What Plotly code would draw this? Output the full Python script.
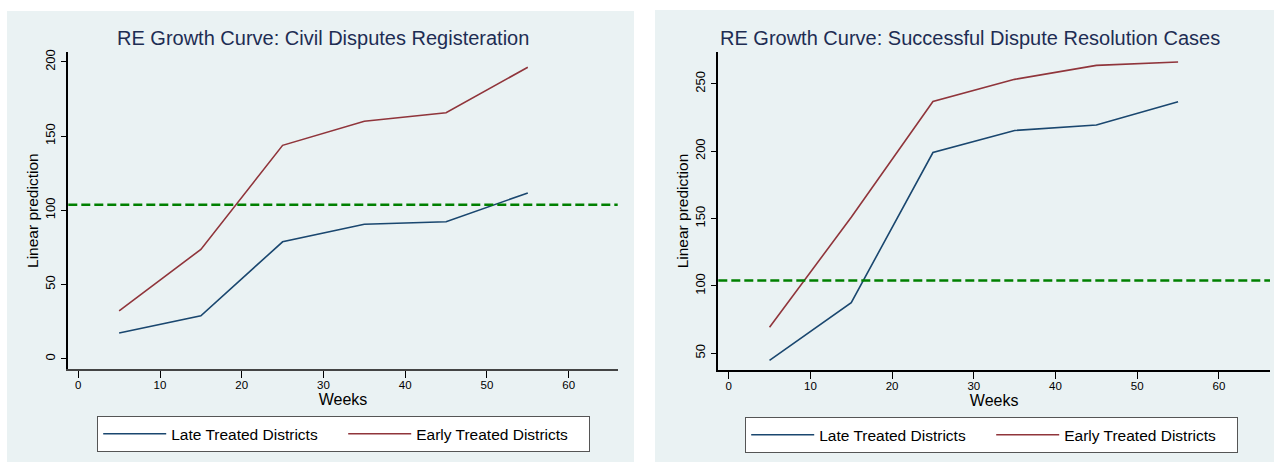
import plotly.graph_objects as go

# ---- data ----
weeks = [5, 15, 25, 35, 45, 55]
civil_late = [17.3, 29.0, 78.8, 90.6, 92.3, 111.7]
civil_early = [32.3, 73.7, 143.8, 160.0, 165.8, 196.4]
resol_late = [44.8, 87.6, 199.0, 215.4, 219.4, 236.7]
resol_early = [69.3, 151.0, 236.9, 253.3, 263.7, 266.2]
threshold_civil = 103.8
threshold_resol = 104.0
titles = ["RE Growth Curve: Civil Disputes Registeration",
          "RE Growth Curve: Successful Dispute Resolution Cases"]
series_names = ["Late Treated Districts", "Early Treated Districts"]
x_ticks = [0, 10, 20, 30, 40, 50, 60]
y_ticks_civil = [0, 50, 100, 150, 200]
y_ticks_resol = [50, 100, 150, 200, 250]

W, H = 1274, 462
FONT = "Liberation Sans, Arial, sans-serif"
NAVY = "#1A476F"
MAROON = "#90353B"
GREEN = "#008000"
BG = "#EAF2F3"
TITLE_C = "#1E2D53"

def px(x):
    return x / W

def py(y):
    return 1 - y / H

fig = go.Figure()

panels = [
    dict(xa="x", ya="y", late=civil_late, early=civil_early, thr=threshold_civil, legend="legend"),
    dict(xa="x2", ya="y2", late=resol_late, early=resol_early, thr=threshold_resol, legend="legend2"),
]
for i, p in enumerate(panels):
    fig.add_trace(go.Scatter(x=weeks, y=p["late"], mode="lines", name=series_names[0],
                             line=dict(color=NAVY, width=1.6), xaxis=p["xa"], yaxis=p["ya"],
                             legend=p["legend"]))
    fig.add_trace(go.Scatter(x=weeks, y=p["early"], mode="lines", name=series_names[1],
                             line=dict(color=MAROON, width=1.6), xaxis=p["xa"], yaxis=p["ya"],
                             legend=p["legend"]))
    fig.add_shape(type="line", xref=p["xa"] + " domain", yref=p["ya"], x0=0, x1=1,
                  y0=p["thr"], y1=p["thr"], line=dict(color=GREEN, width=2.5, dash="9px,4px"))

# panel backgrounds
fig.add_shape(type="rect", xref="paper", yref="paper", x0=px(7), x1=px(634), y0=0, y1=py(11),
              fillcolor=BG, line=dict(width=0), layer="below")
fig.add_shape(type="rect", xref="paper", yref="paper", x0=px(655), x1=1, y0=0, y1=py(10),
              fillcolor=BG, line=dict(width=0), layer="below")

xaxis_common = dict(showgrid=False, zeroline=False, showline=True, ticks="outside",
                    ticklen=7, tickwidth=1.2, tickcolor="black", ticklabelstandoff=-3,
                    tickfont=dict(family=FONT, size=11.5, color="black"), automargin=False,
                    title=dict(text="Weeks", font=dict(family=FONT, size=16, color="black"), standoff=1))
yaxis_common = dict(showgrid=True, gridcolor=BG, gridwidth=2.5, zeroline=False, showline=True,
                    ticks="outside", ticklen=6, tickwidth=1.2, tickcolor="black", tickangle=-90,
                    tickfont=dict(family=FONT, size=13, color="black"), automargin=False,
                    linecolor="black", linewidth=1.5,
                    title=dict(text="Linear prediction", font=dict(family=FONT, size=15.5, color="black"),
                               standoff=1))

legend_common = dict(orientation="h", xanchor="left", yanchor="top",
                     bgcolor="white", bordercolor="#555", borderwidth=1.2,
                     font=dict(family=FONT, size=15.5, color="black"),
                     entrywidth=167, itemwidth=63)

fig.update_layout(
    xaxis=dict(domain=[px(68.3), px(617.7)], range=[-1.22, 66.0], tickvals=x_ticks,
               linecolor="#444", linewidth=2, anchor="y", **xaxis_common),
    yaxis=dict(domain=[py(369), py(52.3)], range=[-6.9, 206.5], tickvals=y_ticks_civil,
               anchor="x", **yaxis_common),
    xaxis2=dict(domain=[px(718.3), px(1270)], range=[-1.27, 66.25], tickvals=x_ticks,
                linecolor="black", linewidth=2, anchor="y2", **xaxis_common),
    yaxis2=dict(domain=[py(370), py(52)], range=[37.6, 273.6], tickvals=y_ticks_resol,
                anchor="x2", **yaxis_common),
    width=W, height=H,
    margin=dict(l=0, r=0, t=0, b=0),
    paper_bgcolor="white", plot_bgcolor="white",
    font=dict(family=FONT, color="black"),
    legend=dict(x=px(97), y=py(416), **legend_common),
    legend2=dict(x=px(745), y=py(417), **legend_common),
    annotations=[
        dict(text=titles[0], xref="paper", yref="paper", x=px(322.5), y=py(38), xanchor="center",
             yanchor="middle", showarrow=False, font=dict(family=FONT, size=20, color=TITLE_C)),
        dict(text=titles[1], xref="paper", yref="paper", x=px(970), y=py(38), xanchor="center",
             yanchor="middle", showarrow=False, font=dict(family=FONT, size=20, color=TITLE_C)),
    ],
)

fig.write_html("out.html", config={"displayModeBar": False},
               post_script="document.body.style.margin='0';document.body.style.overflow='hidden';")
